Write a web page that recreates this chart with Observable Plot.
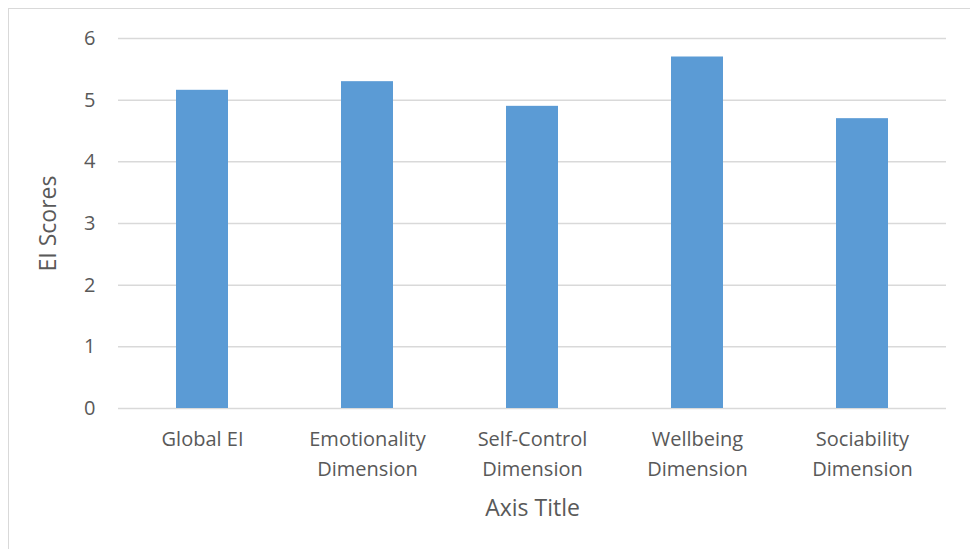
<!DOCTYPE html>
<html>
<head>
<meta charset="utf-8">
<script src="https://cdn.jsdelivr.net/npm/d3@7"></script>
<script src="https://cdn.jsdelivr.net/npm/@observablehq/plot@0.6"></script>
<style>
  html, body { margin: 0; padding: 0; background: #fff; }
  #frame {
    position: absolute; left: 8px; top: 8px; width: 1000px; height: 600px;
    border-top: 1.5px solid #d9d9d9; border-left: 1.5px solid #d9d9d9;
    box-sizing: border-box;
  }
  #chart { position: absolute; left: 0; top: 0; }
  #chart svg { overflow: visible; }
</style>
</head>
<body>
<div id="frame"></div>
<div id="chart"></div>
<script>
// EI dimension scores
const categories = ["Global EI", "Emotionality Dimension", "Self-Control Dimension", "Wellbeing Dimension", "Sociability Dimension"];
const tickLabels = ["Global EI", "Emotionality\nDimension", "Self-Control\nDimension", "Wellbeing\nDimension", "Sociability\nDimension"];
const scores = [5.16, 5.3, 4.9, 5.7, 4.7];
const yTicks = [0, 1, 2, 3, 4, 5, 6];

const data = categories.map((c, i) => ({category: c, score: scores[i]}));
const labelOf = new Map(categories.map((c, i) => [c, tickLabels[i]]));

const font = "'Open Sans', sans-serif";
const textColor = "#595959";

const chart = Plot.plot({
  width: 970,
  height: 549,
  marginLeft: 118,
  marginRight: 24,
  marginTop: 38,
  marginBottom: 141,
  style: {fontFamily: font, color: textColor, background: "transparent"},
  x: {domain: categories, paddingInner: 0.686, paddingOuter: 0.343, label: null},
  y: {domain: [0, 6], label: null},
  marks: [
    Plot.gridY(yTicks, {stroke: "#d9d9d9", strokeOpacity: 1, strokeWidth: 1.5}),
    Plot.barY(data, {x: "category", y: "score", fill: "#5b9bd5"}),
    Plot.axisY(yTicks, {
      tickSize: 0, tickPadding: 23, fontSize: 20, fill: textColor, tickFormat: "d",
      label: "EI Scores", labelAnchor: "center", labelArrow: "none", labelOffset: 79
    }),
    Plot.axisX({
      tickSize: 0, tickPadding: 17, fontSize: 20, fill: textColor, lineHeight: 1.465,
      tickFormat: (d) => labelOf.get(d),
      label: "Axis Title", labelAnchor: "center", labelArrow: "none", labelOffset: 107
    })
  ]
});

// Larger axis titles
chart.querySelectorAll("[aria-label='y-axis label'], [aria-label='x-axis label']").forEach((g) => {
  g.setAttribute("font-size", 23);
  g.setAttribute("fill", textColor);
});

document.getElementById("chart").append(chart);
</script>
</body>
</html>
